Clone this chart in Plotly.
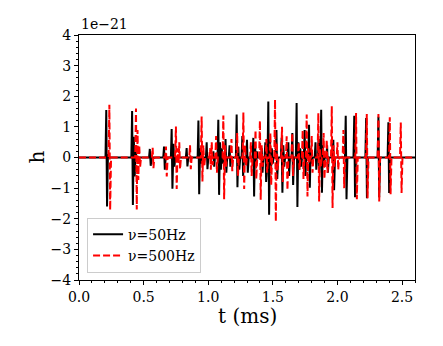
import plotly.graph_objects as go

# nu = 50 Hz signal (time in ms, strain in units of 1e-21)
t_50 = [
    0.0, 0.205, 0.211, 0.217, 0.224, 0.232,
    0.405, 0.411, 0.417, 0.424, 0.431, 0.438, 0.446,
    0.542, 0.548, 0.555, 0.562,
    0.652, 0.658, 0.664, 0.671,
    0.711, 0.717, 0.723, 0.731, 0.738, 0.746,
    0.827, 0.833, 0.839, 0.846,
    0.918, 0.924, 0.930, 0.937, 0.944, 0.952,
    0.982, 0.988, 0.994, 1.001,
    1.034, 1.040, 1.046, 1.052,
    1.072, 1.078, 1.084, 1.091, 1.098, 1.105, 1.112, 1.118,
    1.128, 1.134, 1.140, 1.147,
    1.159, 1.165, 1.171, 1.178,
    1.214, 1.220, 1.226, 1.233, 1.240, 1.248,
    1.258, 1.264, 1.270, 1.277,
    1.294, 1.300, 1.306, 1.313,
    1.343, 1.349, 1.355, 1.362, 1.369, 1.376, 1.383,
    1.408, 1.414, 1.420, 1.427,
    1.436, 1.442, 1.448, 1.455,
    1.459, 1.465, 1.471, 1.478, 1.485, 1.492, 1.499, 1.506,
    1.522, 1.528, 1.534, 1.541,
    1.562, 1.568, 1.574, 1.581, 1.588, 1.595,
    1.614, 1.620, 1.626, 1.633,
    1.645, 1.651, 1.657, 1.664,
    1.678, 1.684, 1.690, 1.697, 1.704, 1.712, 1.719, 1.726,
    1.740, 1.746, 1.752, 1.759,
    1.774, 1.780, 1.786, 1.793, 1.800, 1.807,
    1.824, 1.830, 1.836, 1.843,
    1.849, 1.854, 1.859, 1.864,
    1.868, 1.874, 1.880, 1.887, 1.894, 1.901,
    1.914, 1.920, 1.926, 1.933,
    1.962, 1.968, 1.974, 1.981,
    2.058, 2.064, 2.070, 2.077,
    2.124, 2.130, 2.136, 2.143,
    2.216, 2.222, 2.228, 2.235,
    2.311, 2.317, 2.323, 2.330,
    2.388, 2.394, 2.400, 2.407,
    2.6,
]
h_50 = [
    0, 0, 1.55, -1.6, 0.1, 0,
    0, 1.52, -1.55, 0.68, -0.62, 0.2, 0,
    0, 0.28, -0.27, 0,
    0, 0.36, -0.4, 0,
    0, 0.93, -1.02, 0.45, -0.3, 0,
    0, 0.31, -0.29, 0,
    0, 1.21, -1.2, 0.3, -0.2, 0,
    0, 0.5, -0.38, 0,
    0, 0.2, -0.3, 0,
    0, 1.23, -1.22, 0.5, -0.4, 0.3, -0.2, 0,
    0, 0.6, -0.5, 0,
    0, 0.4, -0.3, 0,
    0, 1.4, -0.97, 0.35, -0.4, 0,
    0, 0.7, -0.6, 0,
    0, 0.58, -0.5, 0,
    0, 0.64, -1.27, 0.5, -0.3, 0.2, 0,
    0, 0.3, -0.5, 0,
    0, 0.5, -0.8, 0,
    0, 1.83, -1.87, 0.6, -0.5, 0.3, -0.2, 0,
    0, 0.9, -0.7, 0,
    0, 0.64, -1.15, 0.4, -0.3, 0,
    0, 0.5, -0.6, 0,
    0, 0.8, -0.9, 0,
    0, 1.78, -1.62, 0.5, -0.4, 0.3, -0.3, 0,
    0, 0.9, -0.6, 0,
    0, 1.07, -0.99, 0.3, -0.2, 0,
    0, 0.5, -0.4, 0,
    0, 0.6, -0.5, 0,
    0, 1.56, -1.15, 0.4, -0.3, 0,
    0, 0.4, -0.5, 0,
    0, 0.58, -1.07, 0,
    0, 1.36, -1.36, 0,
    0, 1.36, -1.3, 0,
    0, 1.29, -1.33, 0,
    0, 1.33, -1.3, 0,
    0, 1.15, -1.16, 0,
    0,
]

# nu = 500 Hz signal
t_500 = [
    0.0, 0.229, 0.235, 0.241, 0.248,
    0.435, 0.441, 0.447, 0.453, 0.459, 0.466, 0.473, 0.480,
    0.564, 0.570, 0.576, 0.583,
    0.667, 0.673, 0.679, 0.686,
    0.744, 0.750, 0.756, 0.763, 0.770, 0.776, 0.782, 0.789,
    0.853, 0.859, 0.865, 0.872,
    0.943, 0.949, 0.955, 0.962, 0.969, 0.976,
    1.008, 1.014, 1.020, 1.027, 1.034, 1.041,
    1.055, 1.061, 1.067, 1.074,
    1.111, 1.117, 1.123, 1.130, 1.137, 1.144,
    1.174, 1.180, 1.186, 1.193,
    1.218, 1.224, 1.230, 1.237,
    1.266, 1.272, 1.278, 1.285, 1.292, 1.299,
    1.324, 1.330, 1.336, 1.343,
    1.360, 1.366, 1.372, 1.379,
    1.394, 1.400, 1.406, 1.413, 1.420, 1.427,
    1.444, 1.450, 1.456, 1.463,
    1.475, 1.481, 1.487, 1.494,
    1.511, 1.517, 1.523, 1.530, 1.537, 1.544,
    1.565, 1.571, 1.577, 1.584,
    1.601, 1.607, 1.613, 1.620,
    1.644, 1.650, 1.656, 1.663,
    1.694, 1.700, 1.706, 1.713,
    1.725, 1.731, 1.737, 1.744,
    1.756, 1.762, 1.768, 1.775, 1.782, 1.789,
    1.795, 1.801, 1.807, 1.814,
    1.846, 1.852, 1.858, 1.865, 1.872, 1.879,
    1.887, 1.893, 1.899, 1.906,
    1.911, 1.917, 1.923, 1.930,
    1.950, 1.956, 1.962, 1.969, 1.976, 1.983,
    1.994, 2.000, 2.006, 2.013,
    2.040, 2.046, 2.052, 2.059,
    2.138, 2.144, 2.150, 2.157,
    2.221, 2.227, 2.233, 2.240,
    2.311, 2.317, 2.323, 2.330,
    2.399, 2.405, 2.411, 2.418,
    2.484, 2.490, 2.496, 2.503,
    2.6,
]
h_500 = [
    0, 0, 1.72, -1.72, 0,
    0, 1.6, -1.7, 0.9, -0.73, 0.4, -0.3, 0,
    0, 0.32, -0.35, 0,
    0, 0.36, -0.62, 0,
    0, 1.01, -1.03, 0.3, -0.2, 0.5, -0.38, 0,
    0, 0.4, -0.38, 0,
    0, 1.34, -0.78, 0.4, -0.3, 0,
    0, 0.3, -0.4, 0.5, -0.25, 0,
    0, 0.7, -0.5, 0,
    0, 1.37, -1.36, 0.4, -0.3, 0,
    0, 0.6, -0.45, 0,
    0, 0.8, -0.6, 0,
    0, 1.47, -1.03, 0.4, -0.3, 0,
    0, 0.5, -0.6, 0,
    0, 0.9, -0.7, 0,
    0, 1.2, -1.38, 0.4, -0.3, 0,
    0, 0.6, -0.5, 0,
    0, 0.8, -0.9, 0,
    0, 1.89, -2.09, 0.5, -0.4, 0,
    0, 1.0, -0.8, 0,
    0, 0.69, -1.06, 0,
    0, 0.8, -0.6, 0,
    0, 0.5, -0.4, 0,
    0, 0.9, -0.7, 0,
    0, 1.4, -1.27, 0.3, -0.2, 0,
    0, 0.7, -0.5, 0,
    0, 1.45, -1.44, 0.3, -0.3, 0,
    0, 0.8, -0.7, 0,
    0, 0.58, -0.5, 0,
    0, 1.67, -1.65, 0.4, -0.3, 0,
    0, 0.5, -0.4, 0,
    0, 0.9, -1.0, 0,
    0, 1.45, -1.36, 0,
    0, 1.42, -1.33, 0,
    0, 1.42, -1.44, 0,
    0, 1.31, -1.2, 0,
    0, 1.14, -1.16, 0,
    0,
]

assert len(t_50) == len(h_50) and len(t_500) == len(h_500)

serif = "DejaVu Serif"

fig = go.Figure()
fig.add_trace(go.Scatter(x=t_50, y=h_50, mode="lines", name="ν=50Hz",
                         line=dict(color="black", width=2)))
fig.add_trace(go.Scatter(x=t_500, y=h_500, mode="lines", name="ν=500Hz",
                         line=dict(color="red", width=2, dash="7px,3px")))

axis_common = dict(
    showgrid=False, zeroline=False,
    showline=True, linecolor="black", linewidth=1, mirror=True,
    ticks="outside", ticklen=4, tickwidth=1, tickcolor="black",
    tickfont=dict(family=serif, size=14, color="black"),
)

fig.update_xaxes(range=[0, 2.6], dtick=0.5, tick0=0, tickformat=".1f",
                 minor=dict(dtick=0.1, ticks="outside", ticklen=2, tickcolor="black"),
                 **axis_common)
fig.update_yaxes(range=[-4, 4], dtick=1, tick0=0,
                 minor=dict(dtick=0.2, ticks="outside", ticklen=2, tickcolor="black"),
                 **axis_common)

# the page body adds 8px around the figure, so margins are shifted up/left
fig.update_layout(
    width=443, height=346,
    margin=dict(l=71, r=36, t=27, b=74),
    plot_bgcolor="white", paper_bgcolor="white",
    font=dict(family=serif, color="black"),
    showlegend=True,
    legend=dict(x=0.024, y=0.03, xanchor="left", yanchor="bottom",
                bgcolor="rgba(255,255,255,0.8)", bordercolor="#cccccc", borderwidth=1,
                font=dict(family=serif, size=14), tracegroupgap=0),
    annotations=[
        dict(text="1e−21", x=0, y=1, xref="paper", yref="paper",
             xanchor="left", yanchor="bottom", showarrow=False, yshift=1,
             font=dict(family=serif, size=14)),
        dict(text="t (ms)", x=0.5, y=0, xref="paper", yref="paper",
             xanchor="center", yanchor="middle", showarrow=False, yshift=-36,
             font=dict(family=serif, size=20)),
        dict(text="h", x=0, y=0.5, xref="paper", yref="paper",
             xanchor="center", yanchor="middle", showarrow=False, xshift=-43,
             textangle=-90, font=dict(family=serif, size=20)),
    ],
)

fig.write_html("out.html")
